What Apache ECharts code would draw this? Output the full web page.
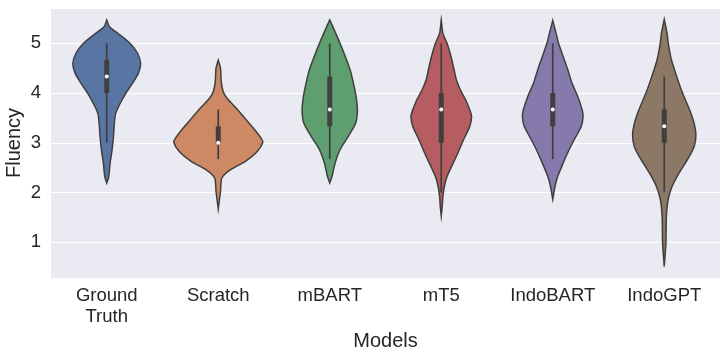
<!DOCTYPE html>
<html>
<head>
<meta charset="utf-8">
<script src="https://cdn.jsdelivr.net/npm/echarts@6/dist/echarts.min.js"></script>
<style>
  html, body { margin: 0; padding: 0; background: #fff; }
  #chart { width: 727px; height: 357px; }
</style>
</head>
<body>
<div id="chart"></div>
<script>
  // categories
  var models = ['Ground\nTruth', 'Scratch', 'mBART', 'mT5', 'IndoBART', 'IndoGPT'];

  // violin outlines: fluency level -> relative density (1 = widest violin)
  var gtLevels = [5.47, 5.335, 5.2, 5.0, 4.8, 4.6, 4.4, 4.2, 4.0, 3.79, 3.59, 3.39, 3.12, 2.86, 2.59, 2.32, 2.19];
  var gtDensity = [0, 0.06, 0.25, 0.52, 0.69, 0.76, 0.71, 0.58, 0.43, 0.30, 0.20, 0.17, 0.15, 0.12, 0.075, 0.045, 0];

  var scratchLevels = [4.66, 4.5, 4.23, 4.03, 3.89, 3.69, 3.49, 3.29, 3.09, 3.01, 2.82, 2.62, 2.45, 2.29, 2.02, 1.67];
  var scratchDensity = [0, 0.05, 0.067, 0.11, 0.20, 0.41, 0.60, 0.79, 0.96, 1.0, 0.87, 0.60, 0.26, 0.08, 0.05, 0];

  var mbartLevels = [5.47, 5.27, 5.0, 4.73, 4.46, 4.2, 3.93, 3.66, 3.39, 3.12, 2.86, 2.59, 2.32, 2.19];
  var mbartDensity = [0, 0.10, 0.23, 0.35, 0.46, 0.53, 0.59, 0.62, 0.58, 0.41, 0.23, 0.12, 0.05, 0];

  var mt5Levels = [5.47, 5.2, 5.0, 4.73, 4.46, 4.26, 4.06, 3.86, 3.66, 3.53, 3.33, 3.06, 2.79, 2.52, 2.32, 2.12, 1.92, 1.70, 1.53];
  var mt5Density = [0, 0.037, 0.13, 0.22, 0.29, 0.34, 0.43, 0.55, 0.64, 0.68, 0.64, 0.50, 0.37, 0.23, 0.13, 0.07, 0.037, 0.02, 0];

  var indobartLevels = [5.46, 5.2, 5.0, 4.73, 4.46, 4.2, 3.93, 3.66, 3.53, 3.33, 3.06, 2.79, 2.52, 2.32, 2.12, 1.86];
  var indobartDensity = [0, 0.075, 0.13, 0.235, 0.34, 0.43, 0.56, 0.66, 0.68, 0.64, 0.48, 0.33, 0.20, 0.11, 0.05, 0];

  var indogptLevels = [5.48, 5.2, 5.0, 4.67, 4.33, 4.0, 3.66, 3.39, 3.16, 2.92, 2.66, 2.39, 2.12, 1.85, 1.52, 0.98, 0.51];
  var indogptDensity = [0, 0.064, 0.09, 0.16, 0.28, 0.41, 0.57, 0.67, 0.71, 0.67, 0.52, 0.33, 0.175, 0.086, 0.048, 0.037, 0];

  // inner box plot
  var q1 = [4.0, 3.0, 3.33, 3.0, 3.33, 3.0];
  var median = [4.33, 3.0, 3.67, 3.67, 3.67, 3.33];
  var q3 = [4.67, 3.33, 4.33, 4.0, 4.0, 3.67];
  var whiskerLow = [3.0, 2.67, 2.67, 2.0, 2.67, 2.0];
  var whiskerHigh = [5.0, 3.67, 5.0, 5.0, 5.0, 4.33];

  var levels = [gtLevels, scratchLevels, mbartLevels, mt5Levels, indobartLevels, indogptLevels];
  var densities = [gtDensity, scratchDensity, mbartDensity, mt5Density, indobartDensity, indogptDensity];
  var colors = ['#5975a4', '#cc8963', '#5f9e6e', '#b55d60', '#857aab', '#8d7866'];
  var ink = '#3f3f3f';

  var chart = echarts.init(document.getElementById('chart'));

  function renderViolin(params, api) {
    var i = api.value(0);
    var lv = levels[i], dn = densities[i];
    var cx = api.coord([i, 0])[0];
    var half = api.size([1, 0])[0] * 0.4;
    var right = [], left = [];
    for (var k = 0; k < lv.length; k++) {
      var y = api.coord([i, lv[k]])[1];
      right.push([cx + dn[k] * half, y]);
      left.unshift([cx - dn[k] * half, y]);
    }
    var yLo = api.coord([i, whiskerLow[i]])[1];
    var yHi = api.coord([i, whiskerHigh[i]])[1];
    var yQ1 = api.coord([i, q1[i]])[1];
    var yQ3 = api.coord([i, q3[i]])[1];
    var yMed = api.coord([i, median[i]])[1];
    return {
      type: 'group',
      children: [
        {
          type: 'polygon',
          shape: { points: right.concat(left), smooth: 0.25 },
          style: { fill: colors[i], stroke: ink, lineWidth: 1.5 }
        },
        {
          type: 'line',
          shape: { x1: cx, y1: yLo, x2: cx, y2: yHi },
          style: { stroke: ink, lineWidth: 1.7 }
        },
        {
          type: 'line',
          shape: { x1: cx, y1: yQ1, x2: cx, y2: yQ3 },
          style: { stroke: ink, lineWidth: 5 }
        },
        {
          type: 'circle',
          shape: { cx: cx, cy: yMed, r: 2 },
          style: { fill: '#ffffff' }
        }
      ]
    };
  }

  chart.setOption({
    animation: false,
    textStyle: { fontFamily: 'Liberation Sans, Arial, sans-serif' },
    grid: {
      left: 51, right: 7, top: 8, bottom: 79,
      outerBoundsMode: 'none',
      containLabel: false,
      show: true, backgroundColor: '#EAEAF2', borderWidth: 0
    },
    xAxis: {
      type: 'category',
      data: models,
      name: 'Models',
      nameLocation: 'middle',
      nameGap: 53,
      nameMoveOverlap: false,
      nameTextStyle: { fontSize: 20, color: '#262626' },
      axisLine: { show: false },
      axisTick: { show: false },
      axisLabel: { fontSize: 18.5, lineHeight: 20.5, color: '#262626', margin: 8 },
      splitLine: { show: false }
    },
    yAxis: {
      type: 'value',
      min: 0.28,
      max: 5.71,
      name: 'Fluency',
      nameLocation: 'middle',
      nameGap: 27,
      nameMoveOverlap: false,
      nameTextStyle: { fontSize: 20, color: '#262626' },
      axisLine: { show: false },
      axisTick: { show: false },
      axisLabel: { fontSize: 18.5, color: '#262626', margin: 10, showMinLabel: false, showMaxLabel: false },
      splitLine: { lineStyle: { color: '#ffffff', width: 1.2 } }
    },
    series: [{
      type: 'custom',
      renderItem: renderViolin,
      data: models.map(function (m, i) { return [i]; }),
      encode: { x: 0, y: -1 }
    }]
  });
</script>
</body>
</html>
